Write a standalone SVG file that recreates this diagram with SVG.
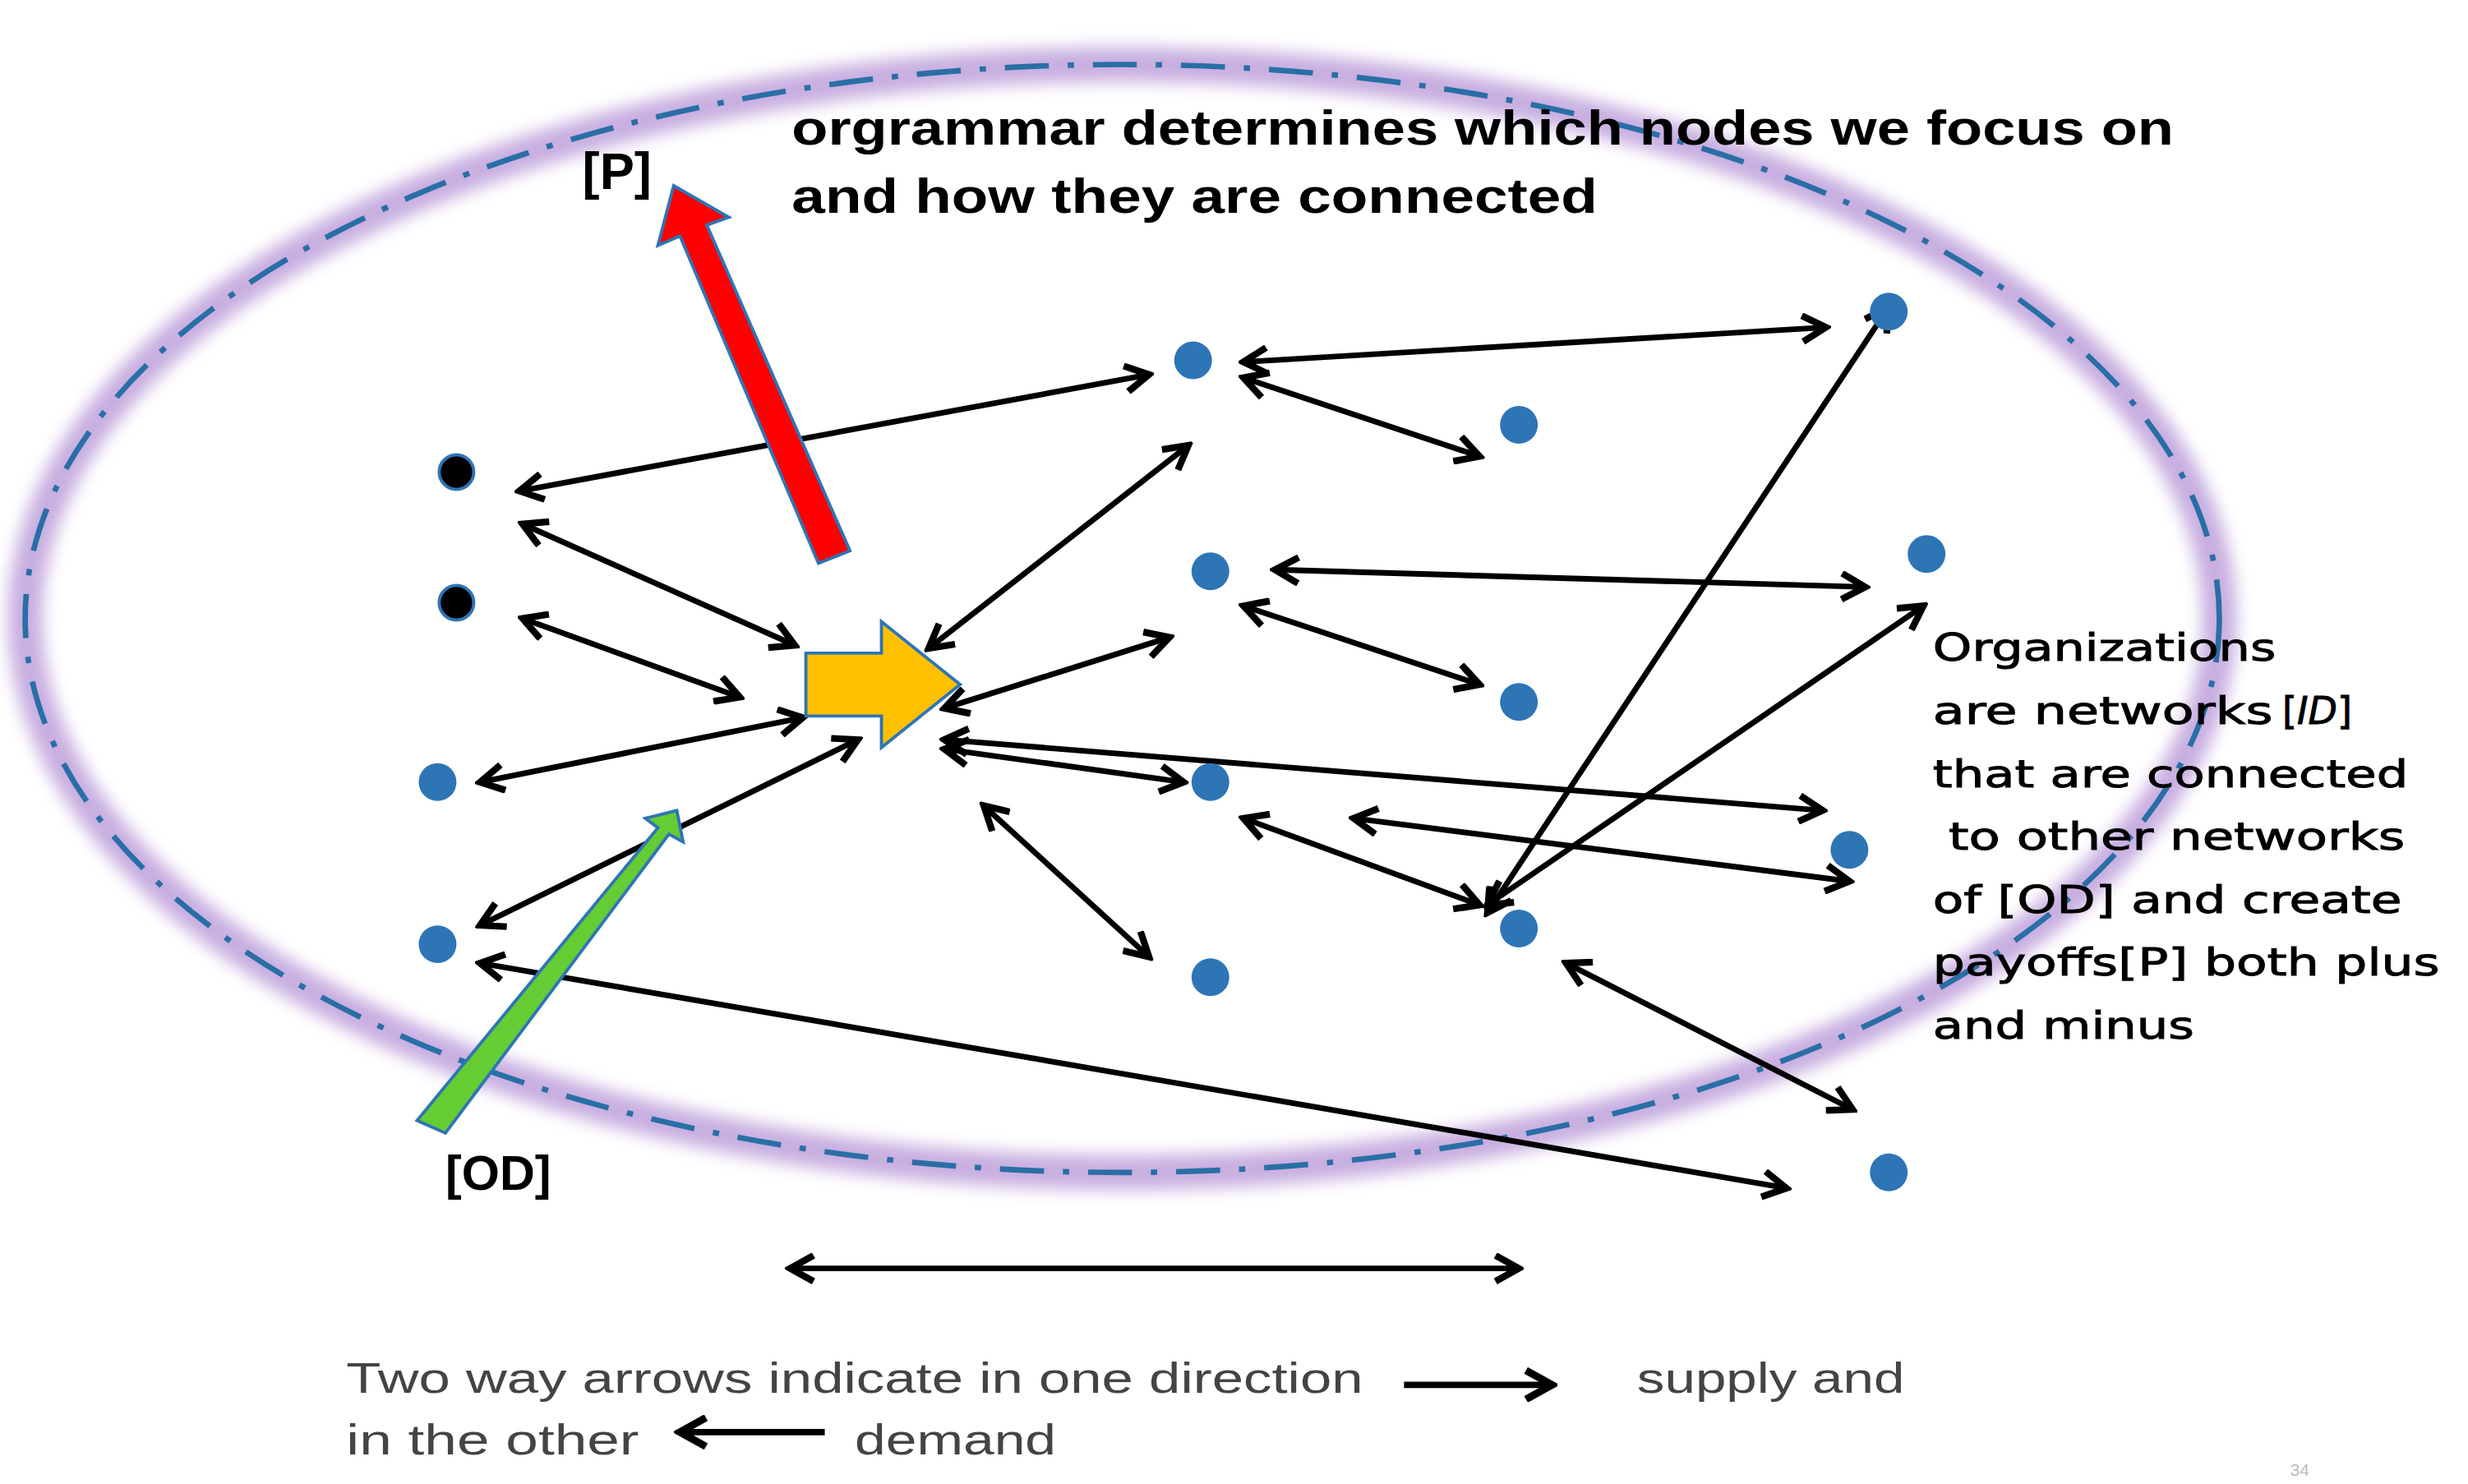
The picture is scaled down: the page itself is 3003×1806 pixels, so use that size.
<svg xmlns="http://www.w3.org/2000/svg" width="3003" height="1806" viewBox="0 0 3003 1806">
<defs>
<style>
.c line{stroke:#000;stroke-width:3.6;marker-start:url(#a);marker-end:url(#a)}
.dot{fill:#2e75b6}
.bdot{fill:#000;stroke:#2e75b6;stroke-width:2}
.t{font-family:"Liberation Sans Narrow","Liberation Sans",Arial,sans-serif;fill:#000;font-weight:bold}
.o{font-family:"DejaVu Sans",Verdana,sans-serif;font-size:24px;fill:#000;stroke:#000;stroke-width:0.5}
.g{font-family:"Liberation Sans Narrow","Liberation Sans",Arial,sans-serif;font-size:27px;fill:#444}
</style>
<marker id="a" viewBox="0 0 12 12" refX="10" refY="6" markerWidth="5.5" markerHeight="5.5" orient="auto-start-reverse" markerUnits="strokeWidth">
<path d="M1,1 L10,6 L1,11" fill="none" stroke="#000" stroke-width="2.6"/>
</marker>
<filter id="blur"><feGaussianBlur stdDeviation="5"/></filter>
</defs>
<rect width="3003" height="1806" fill="#fff"/>
<g transform="scale(1.9152)">
<g id="boundary">
<ellipse cx="713" cy="393" rx="697" ry="352" fill="none" stroke="#b99ad8" stroke-width="22" filter="url(#blur)" opacity="0.8"/>
<ellipse cx="713" cy="393" rx="697" ry="352" fill="none" stroke="#2a6ea6" stroke-width="3.5" stroke-dasharray="28 12 4 12"/>
</g>
<g id="connectors" class="c">
<line x1="330" y1="312" x2="730" y2="238"/>
<line x1="790" y1="230" x2="1160" y2="208"/>
<line x1="790" y1="240" x2="940" y2="290"/>
<line x1="332" y1="333" x2="505" y2="410"/>
<line x1="332" y1="393" x2="470" y2="443"/>
<line x1="590" y1="412" x2="755" y2="283"/>
<line x1="810" y1="362" x2="1185" y2="373"/>
<line x1="790" y1="385" x2="940" y2="435"/>
<line x1="600" y1="450" x2="743" y2="405"/>
<line x1="305" y1="497" x2="510" y2="456"/>
<line x1="600" y1="470" x2="1158" y2="515"/>
<line x1="600" y1="476" x2="752" y2="497"/>
<line x1="790" y1="520" x2="940" y2="575"/>
<line x1="860" y1="520" x2="1175" y2="560"/>
<line x1="305" y1="588" x2="545" y2="470"/>
<line x1="945" y1="580" x2="1200" y2="195"/>
<line x1="945" y1="575" x2="1222" y2="385"/>
<line x1="625" y1="512" x2="730" y2="608"/>
<line x1="995" y1="612" x2="1177" y2="705"/>
<line x1="305" y1="612" x2="1135" y2="755"/>
<line x1="502" y1="806" x2="965" y2="806"/>
</g>
<g id="legend-arrows">
<line x1="892" y1="880" x2="986" y2="880" stroke="#000" stroke-width="4" marker-end="url(#a)"/>
<line x1="524" y1="910" x2="432" y2="910" stroke="#000" stroke-width="4" marker-end="url(#a)"/>
</g>
<g id="nodes">
<circle id="n1" class="bdot" cx="290" cy="300" r="11"/>
<circle id="n2" class="bdot" cx="290" cy="383" r="11"/>
<circle id="n3" class="dot" cx="758" cy="229" r="12"/>
<circle id="n4" class="dot" cx="965" cy="270" r="12"/>
<circle id="n5" class="dot" cx="1200" cy="198" r="12"/>
<circle id="n6" class="dot" cx="769" cy="363" r="12"/>
<circle id="n7" class="dot" cx="965" cy="446" r="12"/>
<circle id="n8" class="dot" cx="1224" cy="352" r="12"/>
<circle id="n9" class="dot" cx="278" cy="497" r="12"/>
<circle id="n10" class="dot" cx="769" cy="497" r="12"/>
<circle id="n11" class="dot" cx="1175" cy="540" r="12"/>
<circle id="n12" class="dot" cx="965" cy="590" r="12"/>
<circle id="n13" class="dot" cx="278" cy="600" r="12"/>
<circle id="n14" class="dot" cx="769" cy="621" r="12"/>
<circle id="n15" class="dot" cx="1200" cy="745" r="12"/>
</g>
<g id="center">
<path d="M512,415 L560,415 L560,395 L610,435 L560,475 L560,455 L512,455 Z" fill="#ffc000" stroke="#2e75b6" stroke-width="2"/>
</g>
<g id="P-arrow">
<path d="M540,350 L520,358 L432,150 L418,156 L428,118 L463,138 L449,143 Z" fill="#ff0000" stroke="#2e75b6" stroke-width="2"/>
</g>
<g id="OD-arrow">
<path d="M265,712 L283,720 L425,530 L434,535 L430,515 L410,520 L418,526 Z" fill="#66cc33" stroke="#2e75b6" stroke-width="2"/>
</g>
<g id="labels">
<text class="t" x="503" y="92" font-size="31" textLength="878" lengthAdjust="spacingAndGlyphs">orgrammar determines which nodes we focus on</text>
<text class="t" x="503" y="135" font-size="31" textLength="512" lengthAdjust="spacingAndGlyphs">and how they are connected</text>
<text class="t" x="370" y="120" font-size="33">[P]</text>
<text class="t" x="283" y="756" font-size="31" font-weight="normal">[OD]</text>
<text class="o" x="1228" y="420" textLength="218" lengthAdjust="spacingAndGlyphs">Organizations</text>
<text class="o" x="1228" y="460"><tspan textLength="216" lengthAdjust="spacingAndGlyphs">are networks</tspan><tspan x="1450">[</tspan><tspan font-style="italic">ID</tspan>]</text>
<text class="o" x="1228" y="500" textLength="302" lengthAdjust="spacingAndGlyphs">that are connected</text>
<text class="o" x="1238" y="540" textLength="290" lengthAdjust="spacingAndGlyphs">to other networks</text>
<text class="o" x="1228" y="580" textLength="298" lengthAdjust="spacingAndGlyphs">of [OD] and create</text>
<text class="o" x="1228" y="620" textLength="322" lengthAdjust="spacingAndGlyphs">payoffs[P] both plus</text>
<text class="o" x="1228" y="660" textLength="166" lengthAdjust="spacingAndGlyphs">and minus</text>
<text class="g" x="220" y="885" textLength="646" lengthAdjust="spacingAndGlyphs">Two way arrows indicate in one direction</text>
<text class="g" x="1040" y="885" textLength="170" lengthAdjust="spacingAndGlyphs">supply and</text>
<text class="g" x="220" y="924" textLength="186" lengthAdjust="spacingAndGlyphs">in the other</text>
<text class="g" x="543" y="924" textLength="128" lengthAdjust="spacingAndGlyphs">demand</text>
<text x="1455" y="938" font-family="Liberation Sans Narrow, Liberation Sans, sans-serif" font-size="11" fill="#bbb">34</text>
</g>
</g>
</svg>
